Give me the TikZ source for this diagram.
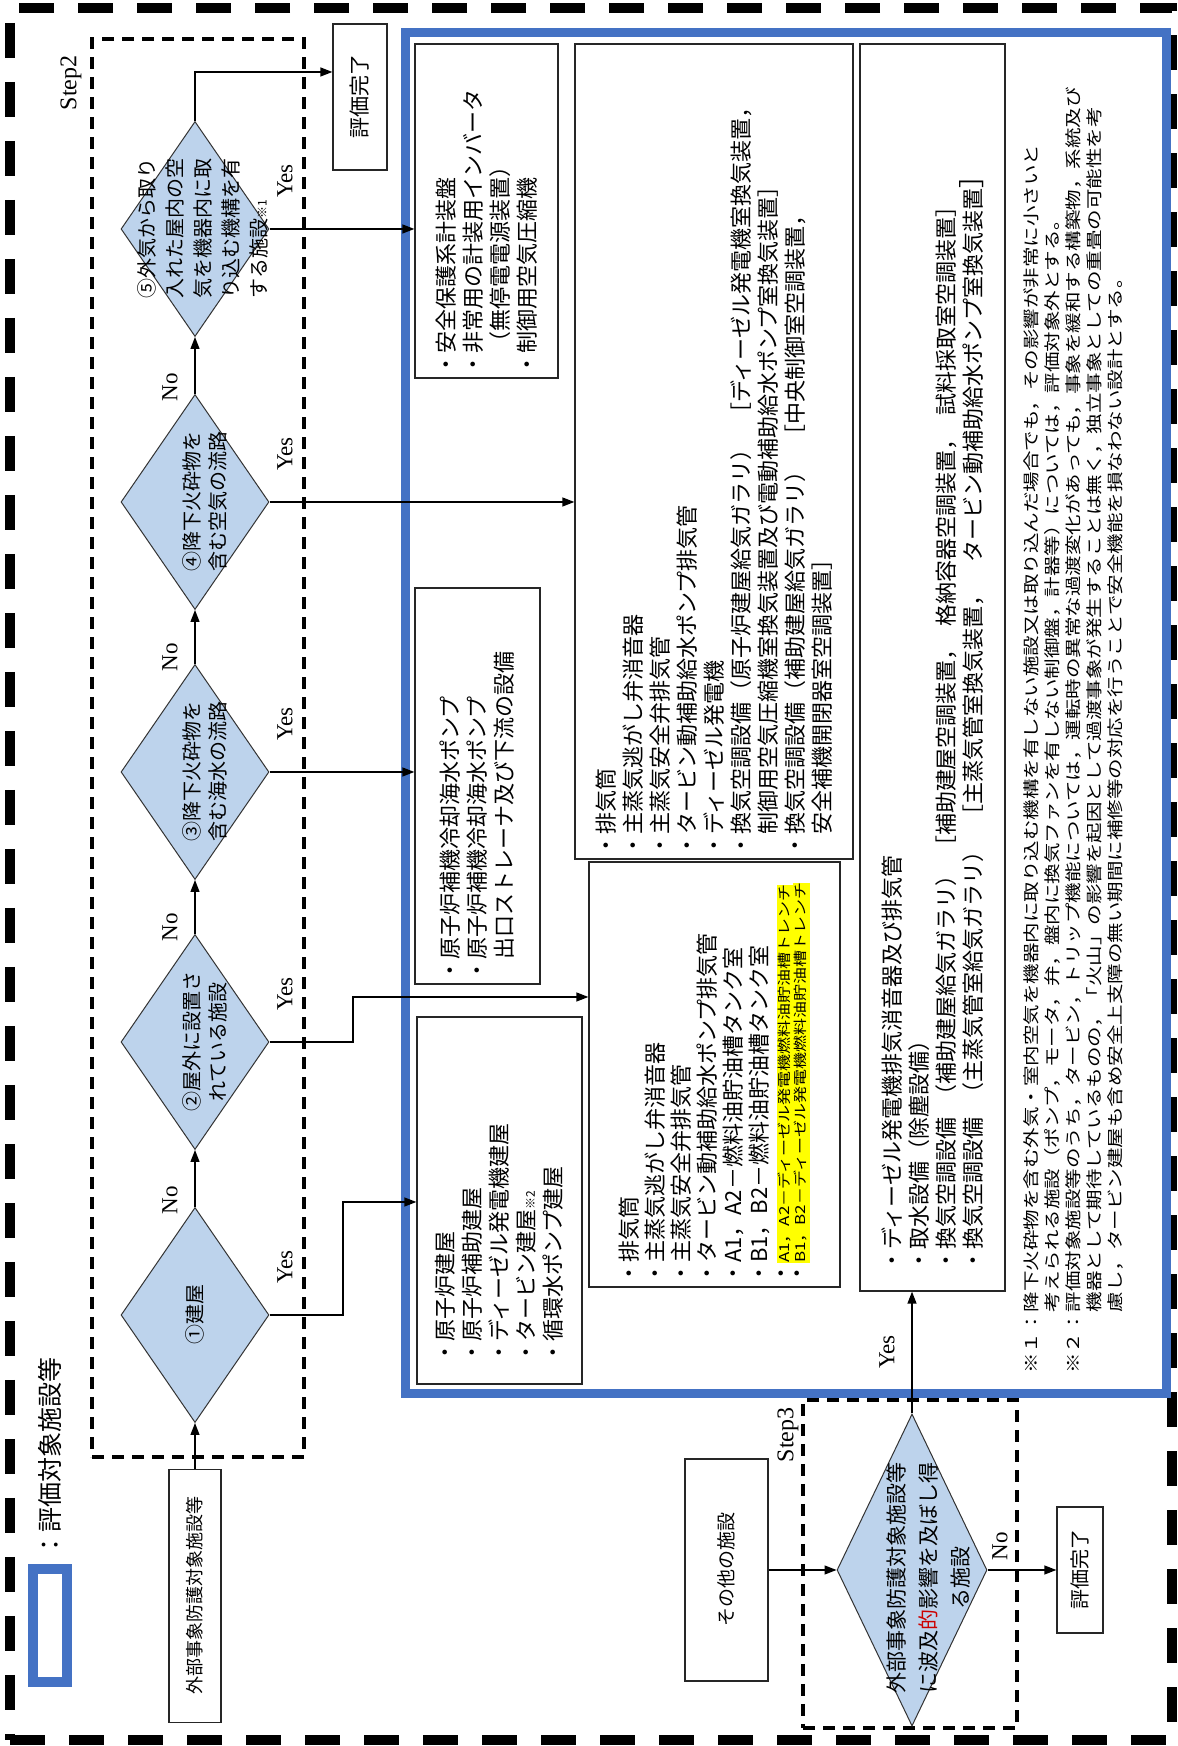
\documentclass[tikz,border=0pt]{standalone}
\usepackage{fontspec}
\usepackage{graphicx}
\setmainfont{Noto Sans CJK JP}
\newfontfamily\tms{Liberation Serif}
\usetikzlibrary{shapes.geometric,arrows.meta,calc}
\definecolor{bluebox}{RGB}{68,114,196}
\definecolor{diafill}{RGB}{189,211,236}
\definecolor{hl}{RGB}{255,255,0}
\begin{document}
\begin{tikzpicture}[x=1pt,y=1pt]
\useasboundingbox (0,0) rectangle (1178,1746);
\fill[white] (0,0) rectangle (1178,1746);
\begin{scope}[rotate=90, transform shape,
  dia/.style={diamond, draw=black!80, line width=1pt, fill=diafill, inner sep=0pt, minimum width=215pt, minimum height=148pt},
  box/.style={draw=black!85, line width=1.3pt, align=left},
  arr/.style={line width=1.3pt, -{Triangle[length=12pt,width=9pt]}},
  yn/.style={font=\tms\fontsize{23}{23}\selectfont, inner sep=0pt},
  btxt/.style={font=\fontsize{22}{27}\selectfont},
  dtxt/.style={font=\fontsize{20}{26}\selectfont, align=center, inner sep=0pt},
  outerdash/.style={line width=10pt, dash pattern=on 35pt off 24pt},
  stepdash/.style={line width=3.5pt, dash pattern=on 12pt off 8pt}]

% outer border
\draw[outerdash] (6,-10) rectangle (1738,-1172);

% legend
\draw[bluebox, line width=10pt] (64,-33) rectangle (177,-67);
\node[anchor=west, inner sep=0pt, font=\fontsize{25}{25}\selectfont] (leg) at (188,-50) {：評価対象施設等};

% step boxes
\draw[stepdash] (289,-92) rectangle (1707,-304);
\node[font=\tms\fontsize{24}{24}\selectfont, inner sep=0pt] (st2) at (1663,-71) {Step2};
\draw[stepdash] (18,-803) rectangle (346,-1017);
\node[font=\tms\fontsize{24}{24}\selectfont, inner sep=0pt] (st3) at (311,-788) {Step3};

% blue frame
\draw[bluebox, line width=9pt] (352,-405) rectangle (1713,-1166);

% diamonds
\node[dia] (d1) at (431,-195) {};
\node[dia] (d2) at (704,-195) {};
\node[dia] (d3) at (974,-195) {};
\node[dia] (d4) at (1244,-195) {};
\node[dia] (d5) at (1517,-195) {};
\node[dtxt] (t1) at (431,-195) {①建屋};
\node[dtxt] (t2) at (704,-205) {②屋外に設置さ\\れている施設};
\node[dtxt] (t3) at (974,-205) {③降下火砕物を\\含む海水の流路};
\node[dtxt] (t4) at (1244,-205) {④降下火砕物を\\含む空気の流路};
\node[dtxt, align=left, font=\fontsize{20}{28}\selectfont] (t5) at (1517,-203) {⑤外気から取り\\入れた屋内の空\\気を機器内に取\\り込む機構を有\\する施設{\fontsize{12}{12}\selectfont ※1}};

% start / end boxes
\node[box, align=center, minimum width=253pt, minimum height=52pt, inner sep=0pt, font=\fontsize{18}{18}\selectfont] (ext) at (150,-195) {外部事象防護対象施設等};
\node[box, align=center, minimum width=146pt, minimum height=54pt, inner sep=0pt, font=\fontsize{21}{21}\selectfont] (done1) at (1649,-360) {評価完了};

% result boxes
\node[box, btxt, text width=330pt, inner xsep=2pt, minimum height=143pt] (A) at (1535,-486.5) {・安全保護系計装盤\\・非常用の計装用インバータ\\\hspace*{1em}（無停電電源装置）\\・制御用空気圧縮機};

\node[box, btxt, text width=811pt, inner xsep=2pt, minimum height=278pt] (B) at (1294.5,-714) {・排気筒\\・主蒸気逃がし弁消音器\\・主蒸気安全弁排気管\\・タービン動補助給水ポンプ排気管\\・ディーゼル発電機\\・換気空調設備（原子炉建屋給気ガラリ）\hspace{14pt}［ディーゼル発電機室換気装置，\\\hspace*{1em}制御用空気圧縮機室換気装置及び電動補助給水ポンプ室換気装置］\\・換気空調設備（補助建屋給気ガラリ）\hspace{14pt}［中央制御室空調装置，\\\hspace*{1em}安全補機開閉器室空調装置］};

\node[box, btxt, text width=392pt, inner xsep=2pt, minimum height=125pt] (C) at (960,-477.5) {・原子炉補機冷却海水ポンプ\\・原子炉補機冷却海水ポンプ\\\hspace*{1em}出口ストレーナ及び下流の設備};

\node[box, btxt, text width=327pt, inner xsep=20pt, minimum height=165pt] (E) at (545.5,-499.5) {・原子炉建屋\\・原子炉補助建屋\\・ディーゼル発電機建屋\\・タービン建屋{\fontsize{12}{12}\selectfont ※2}\\・循環水ポンプ建屋};

\node[box, btxt, font=\fontsize{22}{26}\selectfont, text width=421pt, inner xsep=2pt, minimum height=251pt] (F) at (671.5,-714.5) {・排気筒\\・主蒸気逃がし弁消音器\\・主蒸気安全弁排気管\\・タービン動補助給水ポンプ排気管\\・A1，A2－燃料油貯油槽タンク室\\・B1，B2－燃料油貯油槽タンク室\\[-4pt]・\scalebox{1}[0.8]{\setlength{\fboxsep}{0pt}\colorbox{hl}{\fontsize{17}{20}\selectfont\rule[-5pt]{0pt}{21pt}A1，A2－ディーゼル発電機燃料油貯油槽トレンチ}}\\[-10pt]・\scalebox{1}[0.8]{\setlength{\fboxsep}{0pt}\colorbox{hl}{\fontsize{17}{20}\selectfont\rule[-5pt]{0pt}{21pt}B1，B2－ディーゼル発電機燃料油貯油槽トレンチ}}};

\node[box, btxt, text width=1209pt, inner xsep=19pt, minimum height=145pt] (D) at (1078.5,-932.5) {・ディーゼル発電機排気消音器及び排気管\\・取水設備（除塵設備）\\・換気空調設備\hspace{12pt}（補助建屋給気ガラリ）\hspace{6pt}［補助建屋空調装置，\hspace{12pt}格納容器空調装置，\hspace{12pt}試料採取室空調装置］\\・換気空調設備\hspace{14pt}（主蒸気管室給気ガラリ）\hspace{14pt}［主蒸気管室換気装置，\hspace{22pt}タービン動補助給水ポンプ室換気装置{\fontsize{26}{26}\selectfont ］}};

% notes
\node[anchor=north west, inner sep=0pt, yscale=0.8, align=left, font=\fontsize{20.5}{26.25}\selectfont] (notes) at (372,-1023) {※１：降下火砕物を含む外気・室内空気を機器内に取り込む機構を有しない施設又は取り込んだ場合でも，その影響が非常に小さいと\\\phantom{※１：}考えられる施設（ポンプ，モータ，弁，盤内に換気ファンを有しない制御盤，計器等）については，評価対象外とする。\\※２：評価対象施設等のうち，タービン，トリップ機能については，運転時の異常な過渡変化があっても，事象を緩和する構築物，系統及び\\\phantom{※２：}機器として期待しているものの，「火山」の影響を起因として過渡事象が発生することは無く，独立事象としての重畳の可能性を考\\\phantom{※２：}慮し，タービン建屋も含め安全上支障の無い期間に補修等の対応を行うことで安全機能を損なわない設計とする。};

% step3
\node[box, align=center, minimum width=222pt, minimum height=83pt, inner sep=0pt, font=\fontsize{19}{19}\selectfont] (other) at (176,-726.5) {その他の施設};
\node[dia, minimum width=312pt, minimum height=150pt] (s3) at (176,-912) {};
\node[dtxt, font=\fontsize{21}{32}\selectfont] (s3t) at (168,-928) {外部事象防護対象施設等\\に波及{\color{red!80!black}的}影響を及ぼし得\\る施設};
\node[box, align=center, minimum width=126pt, minimum height=46pt, inner sep=0pt, font=\fontsize{20}{20}\selectfont] (done2) at (176,-1080) {評価完了};

% labels
\node[yn] (y1) at (479,-285) {Yes};
\node[yn] (y2) at (752,-285) {Yes};
\node[yn] (y3) at (1022,-285) {Yes};
\node[yn] (y4) at (1292,-285) {Yes};
\node[yn] (y5) at (1565,-285) {Yes};
\node[yn] (n1) at (546,-170) {No};
\node[yn] (n2) at (819,-170) {No};
\node[yn] (n3) at (1089,-170) {No};
\node[yn] (n4) at (1359,-170) {No};
\node[yn] (y6) at (394,-887) {Yes};
\node[yn] (n6) at (200,-1000) {No};

% connectors
\draw[arr] (ext.east) -- (d1.west);
\draw[arr] (d1.east) -- (d2.west);
\draw[arr] (d2.east) -- (d3.west);
\draw[arr] (d3.east) -- (d4.west);
\draw[arr] (d4.east) -- (d5.west);
\coordinate (c5) at (1674,-195);
\draw[arr] (d5.east) -- (c5) -- (c5 |- done1.north);
\draw[arr] (d5.south) -- (d5.south |- A.north);
\draw[arr] (d4.south) -- (d4.south |- B.north);
\draw[arr] (d3.south) -- (d3.south |- C.north);
\coordinate (c2a) at (704,-353);
\coordinate (c2b) at (749,-353);
\draw[arr] (d2.south) -- (c2a) -- (c2b) -- (c2b |- F.north);
\coordinate (c1a) at (431,-343);
\coordinate (c1b) at (544,-343);
\draw[arr] (d1.south) -- (c1a) -- (c1b) -- (c1b |- E.north);
\draw[arr] (other.south) -- (s3.north);
\draw[arr] (s3.south) -- (done2.north);
\draw[arr] (s3.east) -- (s3.east -| D.west);
\end{scope}
\end{tikzpicture}
\end{document}
